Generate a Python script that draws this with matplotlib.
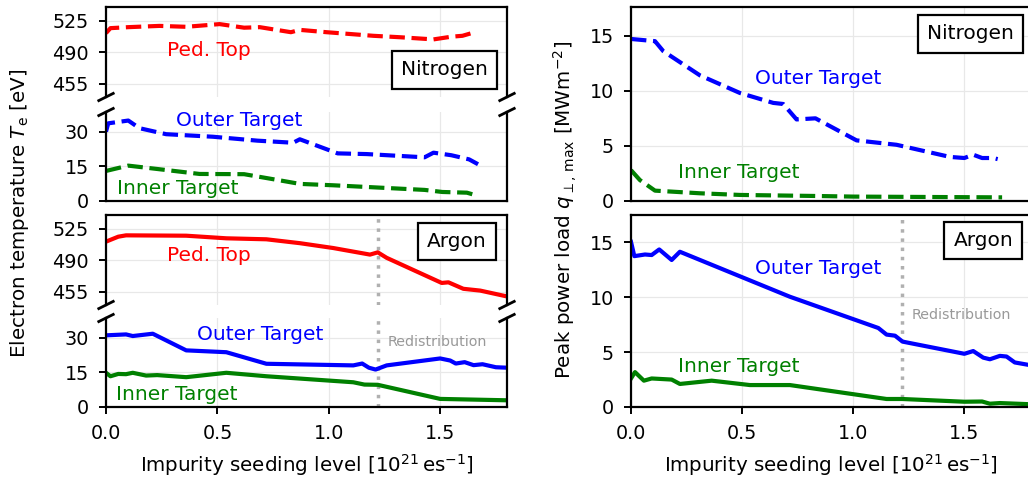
import numpy as np
import matplotlib
matplotlib.use("Agg")
import matplotlib.pyplot as plt

# Nitrogen scan: electron temperature [eV]
n_ped_x = [0.0, 0.02, 0.1, 0.24, 0.36, 0.51, 0.62, 0.69, 0.83, 0.87, 0.99, 1.2, 1.32, 1.47, 1.55, 1.6, 1.65]
n_ped = [511, 516.5, 517.6, 519, 518, 521, 517, 517.6, 512, 514.6, 512, 508, 506.4, 504, 507, 508, 511.6]
n_out_x = [0.0, 0.01, 0.1, 0.15, 0.27, 0.48, 0.68, 0.84, 0.87, 1.04, 1.17, 1.43, 1.47, 1.55, 1.63, 1.67]
n_out = [30, 33.6, 34.8, 31.5, 28.9, 27.8, 26.1, 25.2, 26.7, 20.6, 20.3, 18.9, 20.9, 19.8, 18, 15.9]
n_in_x = [0.0, 0.1, 0.27, 0.42, 0.62, 0.77, 0.87, 1.02, 1.43, 1.51, 1.62, 1.67]
n_in = [13, 15.3, 13.4, 11.7, 11.6, 9.1, 7.4, 6.8, 4.8, 3.9, 3.6, 2.2]

# Argon scan: electron temperature [eV]
a_ped_x = [0.0, 0.055, 0.09, 0.36, 0.54, 0.72, 0.87, 1.02, 1.185, 1.22, 1.26, 1.507, 1.537, 1.604, 1.68, 1.8]
a_ped = [510.4, 515.9, 517.4, 517, 514.1, 513, 508.7, 503.3, 496, 498.5, 492.4, 464.5, 465.2, 458, 456, 449.5]
a_out_x = [0.0, 0.09, 0.12, 0.21, 0.36, 0.54, 0.72, 1.11, 1.15, 1.18, 1.21, 1.26, 1.5, 1.545, 1.57, 1.61, 1.65, 1.69, 1.75, 1.8]
a_out = [31, 31.4, 30.7, 31.7, 24.5, 23.7, 18.7, 18, 18.8, 17, 16.2, 18, 21, 20.1, 18.8, 19.4, 18.1, 18.5, 17.2, 17]
a_in_x = [0.0, 0.02, 0.055, 0.09, 0.12, 0.18, 0.23, 0.36, 0.54, 0.72, 1.11, 1.16, 1.22, 1.5, 1.65, 1.8]
a_in = [14.8, 13.3, 14.3, 14.2, 14.8, 13.6, 13.8, 12.9, 14.8, 13.3, 10.7, 9.7, 9.6, 3.5, 3.2, 2.9]

# Peak power load [MW/m^2]
qn_out_x = [0.0, 0.108, 0.145, 0.31, 0.49, 0.64, 0.685, 0.745, 0.83, 1.015, 1.195, 1.435, 1.5, 1.54, 1.58, 1.63, 1.65]
qn_out = [14.7, 14.5, 13.6, 11.4, 9.8, 8.9, 8.8, 7.4, 7.5, 5.5, 5.1, 4.0, 3.9, 4.2, 3.9, 3.9, 3.8]
qn_in_x = [0.0, 0.04, 0.108, 0.31, 0.49, 0.85, 1.0, 1.67]
qn_in = [2.8, 1.9, 0.94, 0.7, 0.55, 0.45, 0.4, 0.33]
qa_out_x = [0.0, 0.015, 0.063, 0.093, 0.127, 0.183, 0.22, 0.715, 1.113, 1.15, 1.188, 1.222, 1.5, 1.54, 1.585, 1.615, 1.66, 1.69, 1.727, 1.8]
qa_out = [15.05, 13.75, 13.9, 13.85, 14.36, 13.4, 14.15, 10.05, 7.2, 6.6, 6.5, 5.96, 4.85, 5.1, 4.5, 4.35, 4.66, 4.6, 4.06, 3.8]
qa_in_x = [0.0, 0.018, 0.058, 0.093, 0.183, 0.22, 0.363, 0.535, 0.715, 1.15, 1.22, 1.5, 1.58, 1.615, 1.66, 1.8]
qa_in = [2.6, 3.18, 2.4, 2.6, 2.5, 2.1, 2.4, 2.0, 2.0, 0.73, 0.73, 0.48, 0.5, 0.3, 0.36, 0.25]

redistribution = 1.22
xticks = [0.0, 0.5, 1.0, 1.5]

plt.rcParams.update({
    "font.size": 14.3,
    "xtick.labelsize": 13.8,
    "ytick.labelsize": 13.8,
    "axes.linewidth": 1.6,
    "xtick.major.width": 1.4,
    "ytick.major.width": 1.4,
    "xtick.major.size": 5,
    "ytick.major.size": 5,
    "xtick.major.pad": 7.5,
    "ytick.major.pad": 7.5,
    "grid.color": "#e8e8e8",
    "grid.linewidth": 0.9,
})

W, H = 1028, 479
fig = plt.figure(figsize=(W / 100, H / 100), dpi=100)


def add_ax(l, t, r, b):
    return fig.add_axes([l / W, 1 - b / H, (r - l) / W, (b - t) / H])


def style(ax, ylim, yticks, bottom=True):
    ax.set_xlim(0, 1.8)
    ax.set_ylim(*ylim)
    ax.set_xticks(xticks)
    ax.set_yticks(yticks)
    ax.grid(True)
    ax.set_axisbelow(True)
    if not bottom:
        ax.tick_params(axis="x", length=0, labelbottom=False)


def break_marks(top, bot):
    # diagonal marks where the y axis is cut
    top.spines["bottom"].set_visible(False)
    bot.spines["top"].set_visible(False)
    top.tick_params(axis="x", length=0, labelbottom=False)
    dx, dy = 0.018, 0.04
    kw = dict(color="k", lw=2, clip_on=False)
    for xx in (0, 1):
        top.plot([xx - dx, xx + dx], [-dy, dy], transform=top.transAxes, **kw)
        bot.plot([xx - dx, xx + dx], [1 - dy, 1 + dy], transform=bot.transAxes, **kw)


def tag(ax, x, y, s):
    ax.text(x, y, s, transform=ax.transAxes, ha="center", va="center", fontsize=14.5,
            bbox=dict(boxstyle="square,pad=0.45", fc="white", ec="k", lw=1.6), zorder=5)


lw = 3
fs = 14.5

# left column: electron temperature with broken axes
ax_nt = add_ax(106, 7, 507, 97)
ax_nb = add_ax(106, 112, 507, 201)
ax_at = add_ax(106, 215, 507, 305)
ax_ab = add_ax(106, 318, 507, 407)

for a in (ax_nt, ax_at):
    style(a, (440, 540), [455, 490, 525], bottom=False)
style(ax_nb, (0, 38.5), [0, 15, 30], bottom=False)
style(ax_ab, (0, 38.5), [0, 15, 30])
break_marks(ax_nt, ax_nb)
break_marks(ax_at, ax_ab)

ax_nt.plot(n_ped_x, n_ped, color="r", lw=lw, ls="--")
ax_nb.plot(n_out_x, n_out, color="b", lw=lw, ls="--")
ax_nb.plot(n_in_x, n_in, color="g", lw=lw, ls="--")
ax_nt.text(0.46, 492, "Ped. Top", color="r", ha="center", va="center", fontsize=fs)
ax_nb.text(0.60, 34.7, "Outer Target", color="b", ha="center", va="center", fontsize=fs)
ax_nb.text(0.32, 5.2, "Inner Target", color="g", ha="center", va="center", fontsize=fs)
tag(ax_nt, 0.843, 0.30, "Nitrogen")

ax_at.plot(a_ped_x, a_ped, color="r", lw=lw)
ax_ab.plot(a_out_x, a_out, color="b", lw=lw)
ax_ab.plot(a_in_x, a_in, color="g", lw=lw)
for a in (ax_at, ax_ab):
    a.axvline(redistribution, color="#b0b0b0", lw=2.5, ls=":", zorder=1)
ax_at.text(0.46, 495.2, "Ped. Top", color="r", ha="center", va="center", fontsize=fs)
ax_ab.text(0.694, 31.4, "Outer Target", color="b", ha="center", va="center", fontsize=fs)
ax_ab.text(0.316, 5.3, "Inner Target", color="g", ha="center", va="center", fontsize=fs)
ax_ab.text(1.266, 28, "Redistribution", color="#999999", ha="left", va="center", fontsize=10.3)
tag(ax_at, 0.875, 0.706, "Argon")

# right column: peak power load
ax_qn = add_ax(631, 7, 1031, 201)
ax_qa = add_ax(631, 215, 1031, 407)
style(ax_qn, (0, 17.6), [0, 5, 10, 15], bottom=False)
style(ax_qa, (0, 17.5), [0, 5, 10, 15])

ax_qn.plot(qn_out_x, qn_out, color="b", lw=lw, ls="--")
ax_qn.plot(qn_in_x, qn_in, color="g", lw=lw, ls="--")
ax_qn.text(0.843, 11.1, "Outer Target", color="b", ha="center", va="center", fontsize=fs)
ax_qn.text(0.484, 2.6, "Inner Target", color="g", ha="center", va="center", fontsize=fs)
tag(ax_qn, 0.8475, 0.861, "Nitrogen")

ax_qa.plot(qa_out_x, qa_out, color="b", lw=lw)
ax_qa.plot(qa_in_x, qa_in, color="g", lw=lw)
ax_qa.axvline(redistribution, color="#b0b0b0", lw=2.5, ls=":", zorder=1)
ax_qa.text(0.843, 12.6, "Outer Target", color="b", ha="center", va="center", fontsize=fs)
ax_qa.text(0.484, 3.7, "Inner Target", color="g", ha="center", va="center", fontsize=fs)
ax_qa.text(1.264, 8.4, "Redistribution", color="#999999", ha="left", va="center", fontsize=10.3)
tag(ax_qa, 0.881, 0.865, "Argon")

xlabel = r"Impurity seeding level [$10^{21}\,\mathrm{es}^{-1}$]"
for a in (ax_ab, ax_qa):
    a.set_xlabel(xlabel, labelpad=6)
fig.text(20 / W, 1 - 213 / H, r"Electron temperature $T_\mathrm{e}$ [eV]",
         rotation=90, ha="center", va="center")
fig.text(565 / W, 1 - 210 / H, r"Peak power load $q_{\perp,\,\mathrm{max}}$ [MWm$^{-2}$]",
         rotation=90, ha="center", va="center")

fig.savefig("out.png", dpi=100)
